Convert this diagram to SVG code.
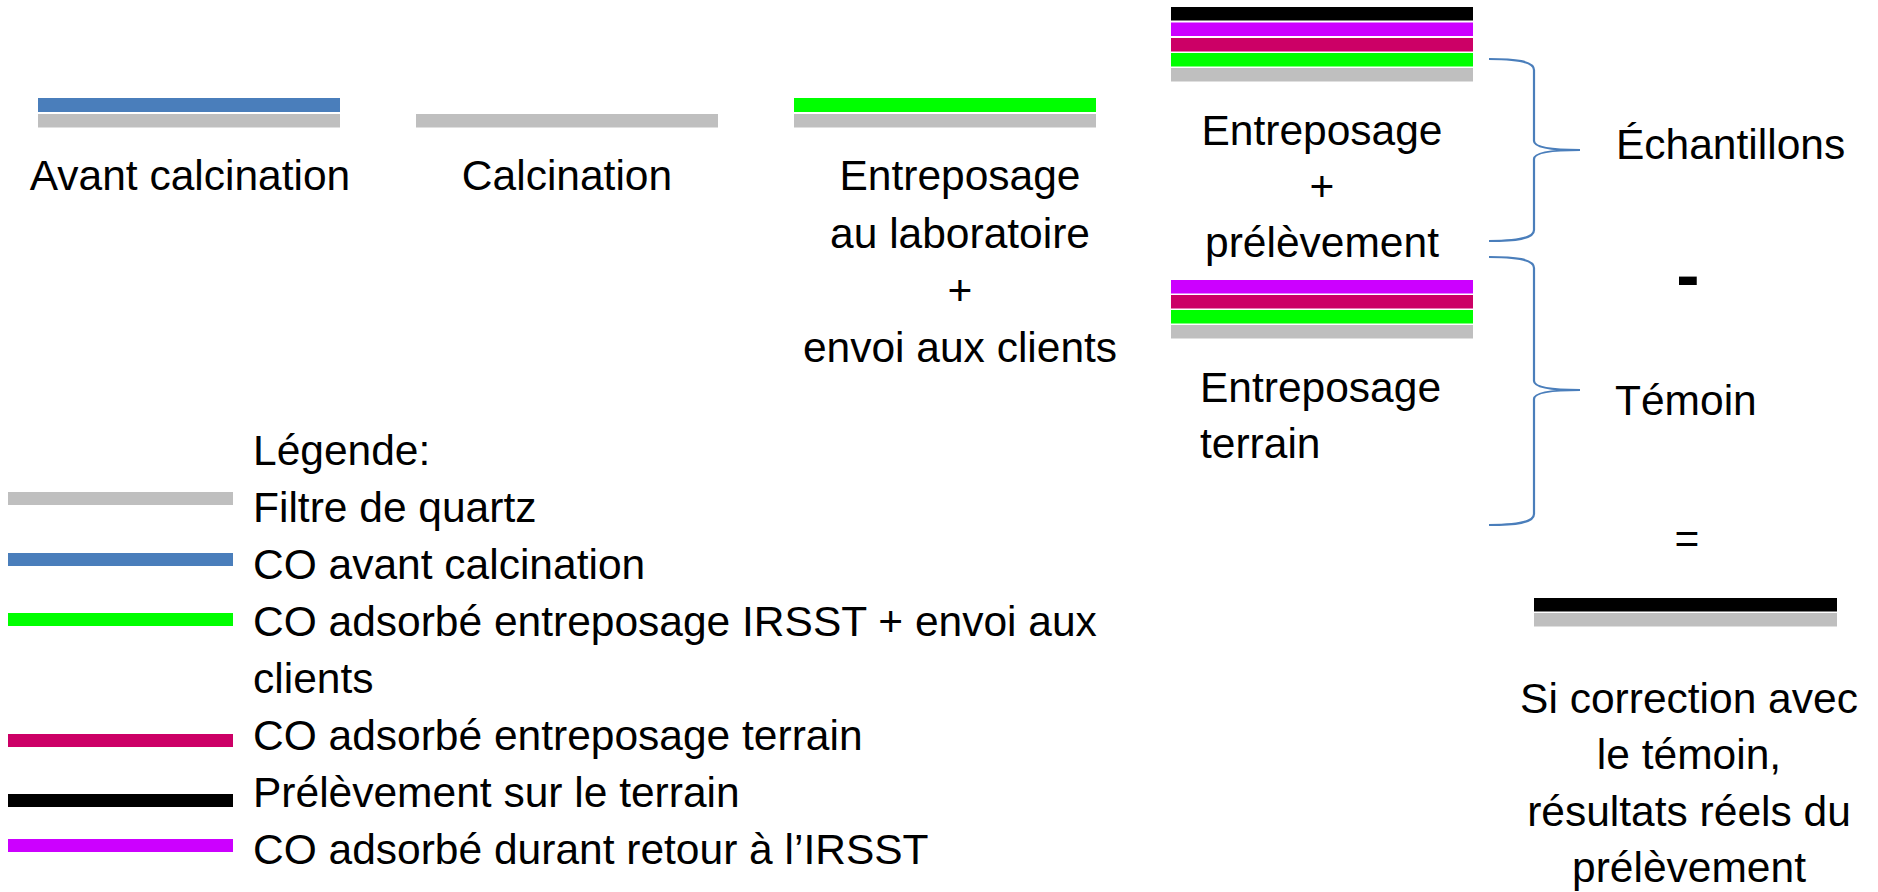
<svg xmlns="http://www.w3.org/2000/svg" width="1878" height="892" viewBox="0 0 1878 892">
<style>
text{font-family:"Liberation Sans",Arial,sans-serif;font-size:42.5px;fill:#000}
.c{text-anchor:middle}
.gray{fill:#BFBFBF}.blue{fill:#4A7EBB}.green{fill:#00FF00}.crim{fill:#CC0066}.blk{fill:#000}.purp{fill:#CC00FF}
.brace{fill:none;stroke:#4A7EBB;stroke-width:2.2}
</style>
<rect width="1878" height="892" fill="#fff"/>
<g id="avant-calcination">
<rect class="blue" x="38" y="98" width="302" height="14"/>
<rect class="gray" x="38" y="114" width="302" height="13.5"/>
<text class="c" x="190" y="190">Avant calcination</text>
</g>
<g id="calcination">
<rect class="gray" x="416" y="114" width="302" height="13.5"/>
<text class="c" x="567" y="190">Calcination</text>
</g>
<g id="entreposage-laboratoire">
<rect class="green" x="794" y="98" width="302" height="14"/>
<rect class="gray" x="794" y="114" width="302" height="13.5"/>
<text class="c" x="960" y="190">Entreposage</text>
<text class="c" x="960" y="248">au laboratoire</text>
<text class="c" x="960" y="305">+</text>
<text class="c" x="960" y="362">envoi aux clients</text>
</g>
<g id="entreposage-prelevement">
<rect class="blk" x="1171" y="7" width="302" height="13.5"/>
<rect class="purp" x="1171" y="22.5" width="302" height="13.5"/>
<rect class="crim" x="1171" y="38" width="302" height="13.5"/>
<rect class="green" x="1171" y="53" width="302" height="13.5"/>
<rect class="gray" x="1171" y="68" width="302" height="13.5"/>
<text class="c" x="1322" y="145">Entreposage</text>
<text class="c" x="1322" y="201">+</text>
<text class="c" x="1322" y="257">prélèvement</text>
</g>
<g id="entreposage-terrain">
<rect class="purp" x="1171" y="280" width="302" height="13.5"/>
<rect class="crim" x="1171" y="295" width="302" height="13.5"/>
<rect class="green" x="1171" y="310" width="302" height="13.5"/>
<rect class="gray" x="1171" y="325" width="302" height="13.5"/>
<text x="1200" y="402">Entreposage</text>
<text x="1200" y="458">terrain</text>
</g>
<g id="connectors">
<path class="brace" d="M1489,59 C1515,59 1534,61 1534,70 L1534,141 C1534,147 1548,150 1580,150 C1548,150 1534,153 1534,159 L1534,230 C1534,239 1515,241 1489,241"/>
<path class="brace" d="M1489,257 C1515,257 1534,259 1534,268 L1534,381 C1534,387 1548,390 1580,390 C1548,390 1534,393 1534,399 L1534,514 C1534,523 1515,525 1489,525"/>
</g>
<g id="echantillons">
<text x="1616" y="159">Échantillons</text>
</g>
<g id="moins">
<text class="c" x="1688" y="299" style="font-size:70px;font-weight:bold">-</text>
</g>
<g id="temoin">
<text x="1615" y="415">Témoin</text>
</g>
<g id="egal">
<text class="c" x="1687" y="553">=</text>
</g>
<g id="resultat">
<rect class="blk" x="1534" y="598" width="303" height="13.5"/>
<rect class="gray" x="1534" y="613" width="303" height="13.5"/>
<text class="c" x="1689" y="713">Si correction avec</text>
<text class="c" x="1689" y="769">le témoin,</text>
<text class="c" x="1689" y="826">résultats réels du</text>
<text class="c" x="1689" y="882">prélèvement</text>
</g>
<g id="legende">
<text x="253" y="465">Légende:</text>
<rect class="gray" x="8" y="492" width="225" height="13"/>
<text x="253" y="522">Filtre de quartz</text>
<rect class="blue" x="8" y="553" width="225" height="13"/>
<text x="253" y="579">CO avant calcination</text>
<rect class="green" x="8" y="613" width="225" height="13"/>
<text x="253" y="636">CO adsorbé entreposage IRSST + envoi aux</text>
<text x="253" y="693">clients</text>
<rect class="crim" x="8" y="734" width="225" height="13"/>
<text x="253" y="750">CO adsorbé entreposage terrain</text>
<rect class="blk" x="8" y="794" width="225" height="13"/>
<text x="253" y="807">Prélèvement sur le terrain</text>
<rect class="purp" x="8" y="839" width="225" height="13"/>
<text x="253" y="864">CO adsorbé durant retour à l’IRSST</text>
</g>
</svg>
